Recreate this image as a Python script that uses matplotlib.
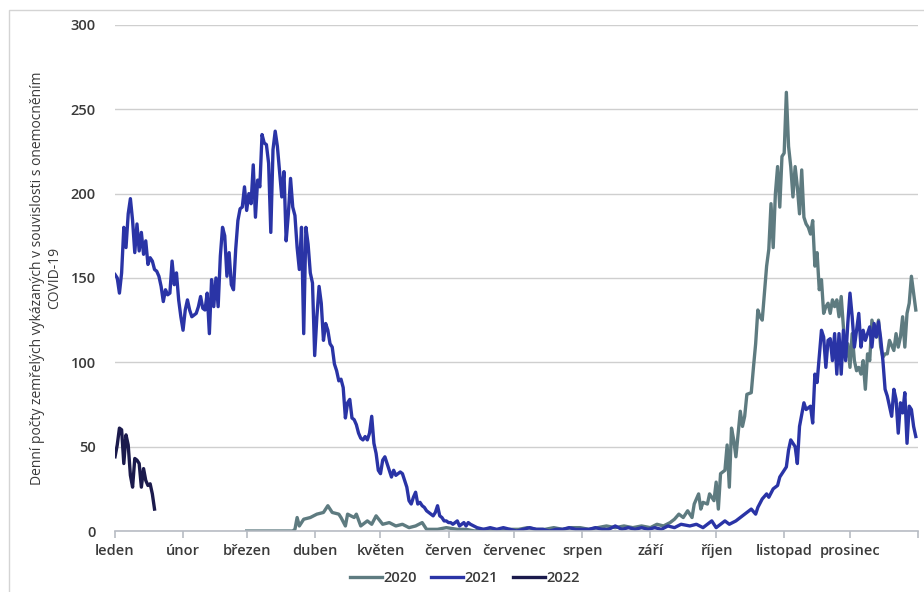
import matplotlib.pyplot as plt
from matplotlib.patches import Rectangle

plt.rcParams['font.family'] = ['Open Sans', 'DejaVu Sans']

# den v roce (kalendář 2020, 0 = 1. ledna) a denní počty zemřelých
days_2020 = [60, 70, 81, 82, 83, 84, 86, 89, 92, 95, 97, 99, 102, 103, 105, 106, 109, 110,
             112, 115, 117, 119, 122, 125, 128, 131, 134, 137, 140, 142, 147, 151, 156,
             160, 164, 168, 172, 176, 180, 184, 188, 192, 196, 200, 204, 208, 212, 216,
             220, 224, 228, 232, 236, 240, 244, 247, 250, 253, 255,
             257, 259, 261, 263, 264, 266, 267, 268, 270, 271, 273, 274, 275, 276, 278,
             279, 280, 281, 282, 283, 285, 286, 287, 288, 290, 291, 292, 293, 294, 295,
             296, 297, 298, 299, 300, 301, 302, 303, 304, 305, 306, 307, 308, 309, 310,
             311, 312, 313, 314, 315, 316, 317, 318, 319, 320, 321, 322, 323, 324, 325,
             326, 327, 328, 329, 330, 331, 332, 333, 334, 335, 336, 337, 338, 339, 340,
             341, 342, 343, 344, 345, 347, 348, 349, 350, 351, 352, 353, 355, 356, 357,
             358, 359, 360, 361, 362, 363, 364, 365]
deaths_2020 = [0, 0, 0, 1, 8, 3, 7, 8, 10, 11, 15, 11, 10, 8, 3, 10, 8, 10,
               3, 6, 4, 9, 4, 5, 3, 4, 2, 3, 5, 1, 1, 2, 1,
               1, 0, 1, 1, 0, 1, 1, 2, 1, 1, 2, 1, 2, 2, 1,
               2, 3, 2, 3, 2, 3, 2, 4, 3, 5, 7,
               10, 8, 12, 8, 16, 22, 13, 17, 16, 22, 18, 29, 13, 34, 36,
               51, 26, 61, 54, 44, 71, 62, 68, 81, 82, 97, 111, 131, 127, 125,
               141, 157, 167, 194, 168, 200, 216, 192, 222, 224, 260, 228, 216, 198, 216,
               204, 188, 214, 186, 182, 180, 176, 184, 157, 165, 143, 149, 129, 133, 135,
               129, 137, 133, 137, 127, 139, 121, 103, 111, 97, 117, 101, 95, 97, 93,
               101, 84, 105, 101, 125, 115, 125, 109, 103, 105, 105, 113, 107, 117, 109,
               115, 127, 109, 129, 135, 151, 141, 131]

days_2021 = [0, 1, 2, 3, 4, 5, 6, 7, 8, 9, 10, 11, 12, 13, 14, 15, 16, 17, 18, 19,
             20, 21, 22, 23, 24, 25, 26, 27, 28, 29, 30, 31, 32, 33, 34, 35, 36, 37, 38, 39,
             40, 41, 42, 43, 44, 45, 46, 47, 48, 49, 50, 51, 52, 53, 54, 55, 56, 57, 58, 59,
             60, 61, 62, 63, 64, 65, 66, 67, 68, 69, 70, 71, 72, 73, 74, 75, 76, 77, 78, 79,
             80, 81, 82, 83, 84, 85, 86, 87, 88, 89, 90, 91, 92, 93, 94, 95, 96, 97, 98, 99,
             100, 101, 102, 103, 104, 105, 106, 107, 108, 109, 110, 111, 112, 113, 114, 115,
             116, 117, 118, 119, 120, 121, 122, 123, 125, 126, 127, 128, 129, 130, 131, 132,
             133, 134, 135, 136, 137, 138, 139, 140, 141, 142, 143, 144, 145, 146, 147, 148,
             149, 150, 151, 152, 153, 154, 155, 156, 157, 158, 159, 160, 161, 162,
             165, 168, 171, 174, 177, 180, 183, 186, 189, 192, 195, 198, 201, 204, 207, 210,
             213, 216, 219, 222, 225, 228, 231, 234, 237, 240, 243, 246, 249, 252, 255,
             258, 262, 265, 268, 272, 274, 276, 278, 280, 283, 285, 287, 289, 290, 292, 293,
             295, 297, 298, 300, 302, 303, 304, 306, 307, 308, 310, 311, 312, 314, 315, 317,
             318, 319, 320, 322, 323, 324, 325, 326, 327, 328, 329, 330, 331, 332, 333, 334,
             335, 336, 337, 338, 339, 340, 341, 342, 344, 345, 346, 347, 348, 349, 350, 351,
             352, 354, 355, 356, 357, 358, 359, 360, 361, 362, 363, 364, 365]
deaths_2021 = [152, 150, 141, 153, 180, 168, 188, 197, 184, 165, 182, 166, 177, 164, 172, 158, 162, 160, 155, 154,
               151, 145, 136, 143, 140, 141, 160, 146, 153, 137, 127, 119, 131, 137, 131, 127, 128, 129, 133, 139,
               132, 131, 141, 117, 149, 133, 150, 133, 163, 180, 175, 151, 165, 146, 143, 167, 184, 191, 192, 204,
               190, 200, 194, 217, 186, 208, 204, 235, 230, 229, 218, 177, 226, 237, 228, 213, 198, 213, 172, 188,
               209, 192, 187, 168, 155, 180, 117, 180, 170, 153, 147, 104, 127, 145, 135, 113, 123, 119, 111, 109,
               99, 95, 89, 90, 85, 67, 76, 78, 67, 66, 63, 58, 55, 54, 56, 54,
               58, 68, 52, 46, 36, 34, 42, 44, 36, 32, 36, 33, 34, 35, 34, 30,
               26, 18, 16, 20, 23, 16, 17, 15, 14, 12, 11, 10, 9, 11, 15, 9,
               8, 6, 6, 5, 5, 4, 5, 6, 3, 4, 5, 3, 5, 4,
               2, 1, 2, 1, 2, 1, 0, 1, 2, 1, 1, 0, 1, 1, 2, 1,
               1, 1, 2, 1, 1, 3, 1, 2, 1, 2, 1, 2, 1, 3, 2,
               4, 3, 4, 2, 6, 2, 4, 6, 4, 6, 8, 10, 12, 13, 10, 14,
               19, 22, 20, 25, 27, 32, 34, 38, 48, 54, 50, 40, 62, 76, 72, 74,
               64, 93, 88, 119, 115, 97, 113, 114, 101, 117, 93, 117, 93, 119, 101, 123,
               141, 127, 109, 119, 129, 109, 119, 113, 121, 109, 123, 115, 124, 114, 101, 84,
               80, 68, 84, 78, 58, 76, 70, 82, 52, 74, 72, 62, 56]

days_2022 = [0, 1, 2, 3, 4, 5, 6, 7, 8, 9, 10, 11, 12, 13, 14, 15, 16, 17, 18]
deaths_2022 = [44, 51, 61, 60, 40, 57, 51, 33, 26, 43, 42, 40, 26, 37, 30, 27, 28, 22, 13]

month_starts = [0, 31, 60, 91, 121, 152, 182, 213, 244, 274, 305, 335, 366]
month_names = ['leden', 'únor', 'březen', 'duben', 'květen', 'červen', 'červenec',
               'srpen', 'září', 'říjen', 'listopad', 'prosinec', '']

fig = plt.figure(figsize=(9.24, 5.92), dpi=100)
fig.patches.append(Rectangle((0.0098, -0.01), 1.2, 0.993, transform=fig.transFigure,
                             fill=False, edgecolor='#d4d4d4', linewidth=1.0))
ax = fig.add_axes([0.1245, 0.103, 0.869, 0.855])

ax.plot(days_2020, deaths_2020, color='#5e7b80', lw=2.4, label='2020')
ax.plot(days_2021, deaths_2021, color='#2a34a6', lw=2.4, label='2021')
ax.plot(days_2022, deaths_2022, color='#1b1a4c', lw=2.4, label='2022')

ax.set_xlim(0, 366)
ax.set_ylim(0, 300)
ax.set_yticks(range(0, 301, 50))
ax.grid(axis='y', color='#cfcfcf', lw=1.0)
ax.set_axisbelow(True)
for s in ['top', 'right', 'left']:
    ax.spines[s].set_visible(False)
ax.spines['bottom'].set_color('#b8bcc4')
ax.spines['bottom'].set_linewidth(1.2)

ax.set_xticks(month_starts)
ax.set_xticklabels(month_names)
ax.tick_params(axis='x', length=5, color='#b8bcc4', width=1.2, pad=4,
               labelsize=10.5, labelcolor='#3a3a3a')
ax.tick_params(axis='y', length=0, pad=14, labelsize=10.5, labelcolor='#3a3a3a')
for lab in ax.get_xticklabels() + ax.get_yticklabels():
    lab.set_fontweight('semibold')

ax.set_ylabel('Denní počty zemřelých vykázaných v souvislosti s onemocněním\nCOVID-19',
              fontsize=10, color='#3a3a3a', labelpad=6)

fig.legend(loc='center', bbox_to_anchor=(0.503, 0.024), ncol=3, frameon=False,
           handlelength=2.2, handletextpad=0.1, columnspacing=1.0,
           prop={'size': 10.5, 'weight': 'semibold'}, labelcolor='#3a3a3a')

fig.savefig('out.png', dpi=100)
